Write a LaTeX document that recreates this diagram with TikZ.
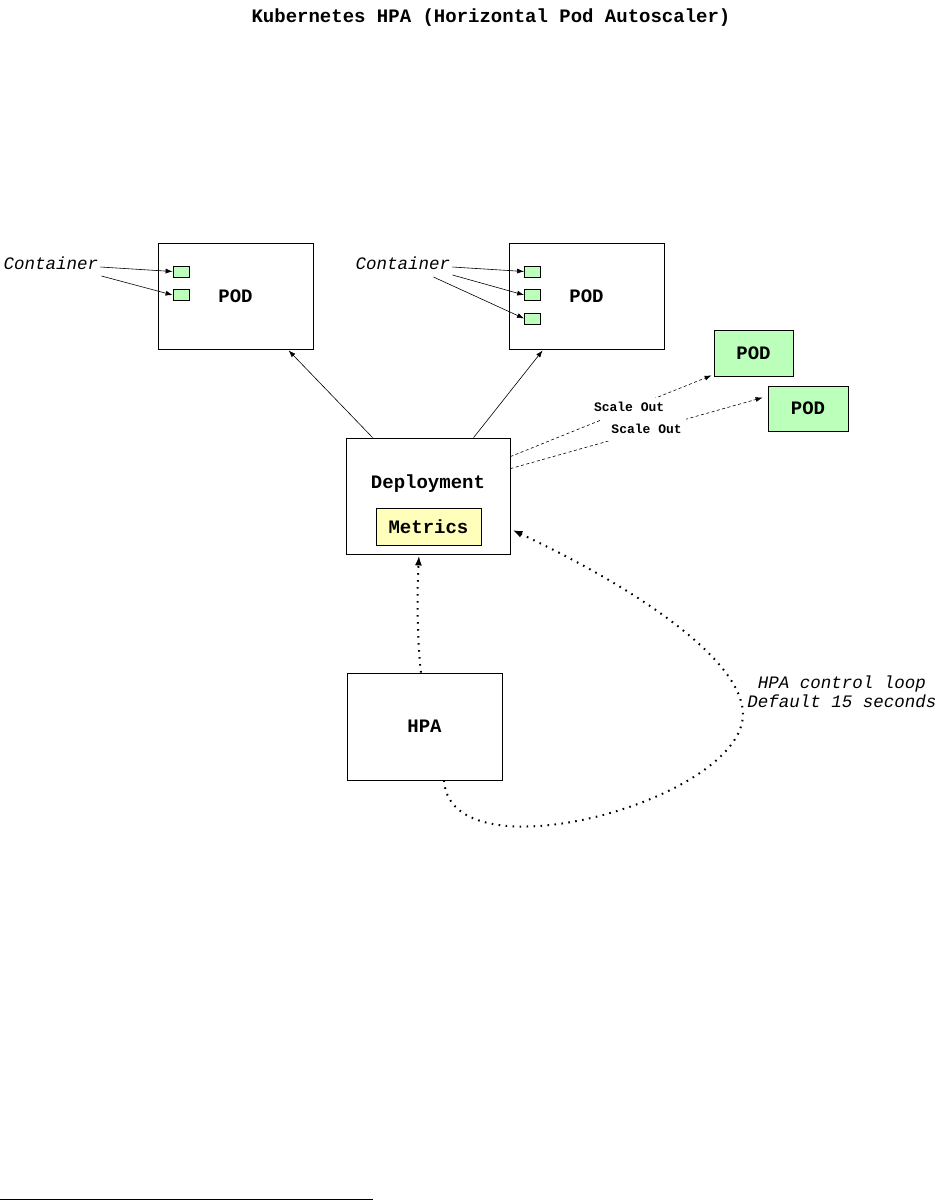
\documentclass[tikz,border=0pt]{standalone}
\usepackage{fontspec}
\setmainfont{Liberation Mono}
\usetikzlibrary{arrows.meta,calc}
\definecolor{podgreen}{HTML}{BBFFBB}
\definecolor{metricyellow}{HTML}{FFFFBB}
\tikzset{
  box/.style={draw, rectangle, line width=0.8pt, inner sep=0pt, font=\fontsize{19}{22}\selectfont\bfseries},
  ctr/.style={draw, fill=podgreen, line width=0.8pt, minimum width=16pt, minimum height=11pt, inner sep=0pt},
  note/.style={inner sep=0pt, font=\fontsize{17.5}{19.5}\selectfont\itshape},
  arr/.style={-{Latex[length=7pt,width=5pt]}, line width=0.6pt},
  dasharr/.style={-{Latex[length=7pt,width=5pt]}, dash pattern=on 3pt off 2.5pt, line width=0.6pt},
  dotarr/.style={-{Latex[length=10pt,width=7pt]}, dash pattern=on 1.6pt off 5.4pt, line width=2pt},
  scalelbl/.style={fill=white, inner xsep=4pt, inner ysep=5pt, text height=9pt, text depth=3pt, font=\fontsize{13}{15}\selectfont\bfseries}
}
\begin{document}
\begin{tikzpicture}[x=1pt, y=-1pt]
  \useasboundingbox (0,0) rectangle (937,1200);
  \node (title) at (491,18) {\fontsize{19}{22}\selectfont\bfseries Kubernetes HPA (Horizontal Pod Autoscaler)};
  \node[box, minimum width=155pt, minimum height=106pt] (pod1) at (235.5,296) {POD};
  \node[box, minimum width=155pt, minimum height=106pt] (pod2) at (586.5,296) {POD};
  \node[box, fill=podgreen, minimum width=79pt, minimum height=46pt] (podA) at (753.5,353) {POD};
  \node[box, fill=podgreen, minimum width=80pt, minimum height=45pt] (podB) at (808,408.5) {POD};
  \node[ctr] (c11) at (181,271.5) {};
  \node[ctr] (c12) at (181,295) {};
  \node[ctr] (c21) at (532.5,271.5) {};
  \node[ctr] (c22) at (532.5,295) {};
  \node[ctr] (c23) at (532.5,318.5) {};
  \node[note] (lab1) at (51,263) {Container};
  \node[note] (lab2) at (403,263) {Container};
  \node[box, minimum width=164pt, minimum height=116pt] (deploy) at (428,496) {};
  \node[box, draw=none] (deploylbl) at (428,484) {Deployment};
  \node[box, fill=metricyellow, minimum width=105pt, minimum height=37pt] (metrics) at (428.5,526.5) {Metrics};
  \node[box, minimum width=155pt, minimum height=107pt] (hpa) at (424.5,726.5) {HPA};
  \node[note, align=center] (looplbl) at (842,692) {HPA control loop\\Default 15 seconds};
  \foreach \dx/\dy/\dest in {2/4/c11, 3/13/c12}
    \draw[arr] ($(lab1.east)+(\dx,\dy)$) -- (\dest.west);
  \foreach \dx/\dy/\dest in {2/4/c21, 2/12/c22, -17/14/c23}
    \draw[arr] ($(lab2.east)+(\dx,\dy)$) -- (\dest.west);
  \draw[arr] ($(deploy.north west)+(27,0)$) -- ($(pod1.south west)+(131,1)$);
  \draw[arr] ($(deploy.north west)+(128,0)$) -- ($(pod2.south west)+(34,1)$);
  \draw[dasharr] ($(deploy.north east)+(0,19)$) -- node[scalelbl, pos=0.59] {Scale Out} ($(podA.south west)+(-2,-1)$);
  \draw[dasharr] ($(deploy.north east)+(0,31)$) -- node[scalelbl, pos=0.54] {Scale Out} ($(podB.north west)+(-5,12)$);
  \draw[dotarr] ($(hpa.north)+(-3.5,0)$) .. controls (417,640) and (417,590) .. ($(deploy.south)+(-9,1)$);
  \coordinate (loopturn) at (743,713);
  \draw[dotarr] ($(hpa.south)+(19.5,0)$) .. controls (450,880) and (745,800) .. (loopturn)
    .. controls (741,660) and (640,590) .. ($(deploy.east)+(2,34)$);
  \draw[line width=0.8pt] (0,1199.2) -- (373,1199.2);
\end{tikzpicture}
\end{document}
